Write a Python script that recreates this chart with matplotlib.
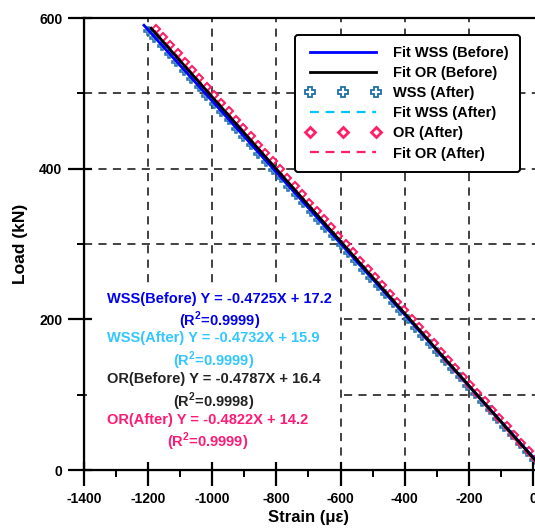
import numpy as np
import matplotlib
matplotlib.use("Agg")
import matplotlib.pyplot as plt
from matplotlib.lines import Line2D
from matplotlib.patches import Rectangle

plt.rcParams['font.family'] = ['Liberation Sans', 'DejaVu Sans']
plt.rcParams['font.weight'] = 'bold'
plt.rcParams['axes.unicode_minus'] = False
plt.rcParams['mathtext.fontset'] = 'custom'
plt.rcParams['mathtext.rm'] = 'Liberation Sans:bold'
plt.rcParams['mathtext.bf'] = 'Liberation Sans:bold'

# --- data ---
wss_load = [2, 13, 24, 35, 46, 57, 68, 79, 90, 101, 112, 123, 134, 145, 156, 167, 178, 189,
            200, 211, 222, 233, 244, 255, 266, 277, 288, 299, 310, 321, 332, 343, 354, 365,
            376, 387, 398, 409, 420, 431, 442, 453, 464, 475, 486, 497, 508, 519, 530, 541,
            552, 563, 574, 583]
wss_strain = [27, 4, -19, -42, -66, -89, -112, -135, -159, -182, -205, -228, -252, -275, -298,
              -321, -345, -368, -391, -414, -438, -461, -484, -507, -531, -554, -577, -600,
              -624, -647, -670, -693, -717, -740, -763, -786, -810, -833, -856, -879, -903,
              -926, -949, -972, -996, -1019, -1042, -1065, -1089, -1112, -1135, -1158, -1181,
              -1200]
or_load = [3, 14, 25, 36, 47, 58, 69, 80, 91, 102, 113, 124, 135, 146, 157, 168, 179, 190,
           201, 212, 223, 234, 245, 256, 267, 278, 289, 300, 311, 322, 333, 344, 355, 366,
           377, 388, 399, 410, 421, 432, 443, 454, 465, 476, 487, 498, 509, 520, 531, 542,
           553, 564, 575, 585]
or_strain = [32, 9, -13, -36, -59, -82, -105, -127, -150, -173, -196, -219, -242, -264, -287,
             -310, -333, -356, -378, -401, -424, -447, -470, -492, -515, -538, -561, -584,
             -607, -629, -652, -675, -698, -721, -743, -766, -789, -812, -835, -857, -880,
             -903, -926, -949, -972, -994, -1017, -1040, -1063, -1086, -1108, -1131, -1154,
             -1175]

# linear fits: slope, intercept, start strain
fit_names = ['WSS(Before)', 'WSS(After)', 'OR(Before)', 'OR(After)']
fit_slope = [-0.4725, -0.4732, -0.4787, -0.4822]
fit_icpt = [17.2, 15.9, 16.4, 14.2]
fit_r2 = ['0.9999', '0.9999', '0.9998', '0.9999']
fit_start = [-1213, -1205, -1191, -1180]

x_ticks = [-1400, -1200, -1000, -800, -600, -400, -200, 0]
y_ticks = [0, 200, 400, 600]

C_BLUE = '#0000ff'
C_CYAN = '#00c4ff'
C_MARK = '#1f6fa8'
C_PINK = '#ff1f66'
text_colors = ['#0000ee', '#33c6ff', '#222222', '#ff1a75']

fig = plt.figure(figsize=(5.35, 5.30), dpi=100)
ax = fig.add_axes([84 / 535, 60 / 530, 461.8 / 535, 452 / 530])
ax.set_xlim(-1400, 40)
ax.set_ylim(0, 600)

# dashed grid drawn by hand so the text box can hide part of it
grid_kw = dict(color='#333333', lw=1.3, dashes=(4.5, 3.5), zorder=0.5)
for xv in x_ticks[1:-1]:
    ax.axvline(xv, **grid_kw)
for yv in [100, 200, 300, 400, 500]:
    ax.axhline(yv, **grid_kw)

ax.add_patch(Rectangle((-1390, 5), 785, 241, facecolor='white', edgecolor='none', zorder=0.6))

# measured points
ax.plot(wss_strain, wss_load, ls='none', marker='P', ms=5.5, mfc='white', mec=C_MARK,
        mew=1.1, zorder=2)
ax.plot(or_strain, or_load, ls='none', marker='D', ms=4.3, mfc='white', mec=C_PINK,
        mew=1.5, zorder=2.1)

# fit lines
def fit_line(i):
    xs = np.array([fit_start[i], -fit_icpt[i] / fit_slope[i]])
    return xs, fit_slope[i] * xs + fit_icpt[i]

x, y = fit_line(1)
ax.plot(x, y, color=C_CYAN, lw=1.6, dashes=(4, 3), zorder=3)
x, y = fit_line(3)
ax.plot(x, y, color=C_PINK, lw=1.6, dashes=(4, 3), zorder=3.1)
x, y = fit_line(0)
ax.plot(x, y, color=C_BLUE, lw=2, zorder=3.2)
x, y = fit_line(2)
ax.plot(x, y, color='black', lw=2, zorder=3.3)

# equation text
text_y = [210, 157.5, 103, 49]
for i in range(4):
    s = f"{fit_names[i]} Y = {fit_slope[i]:.4f}X + {fit_icpt[i]}\n(R$^{{2}}$={fit_r2[i]})"
    ax.text(-1328, text_y[i], s, color=text_colors[i], fontsize=10.5, fontweight='bold',
            ha='left', va='center', multialignment='center', linespacing=1.25, zorder=4)

# axes styling
for sp in ax.spines.values():
    sp.set_linewidth(1.6)
ax.set_xticks(x_ticks)
ax.set_yticks(y_ticks)
ax.set_xticks([-1300, -1100, -900, -700, -500, -300, -100], minor=True)
ax.set_yticks([100, 300, 500], minor=True)
ax.tick_params(which='major', direction='out', length=11.5, width=1.6, labelsize=10, pad=4)
ax.tick_params(which='minor', direction='out', length=5, width=1.4)
for lab in ax.get_xticklabels() + ax.get_yticklabels():
    lab.set_fontweight('bold')

# short inward part of the major ticks
secx = ax.secondary_xaxis('bottom')
secx.set_xticks(x_ticks)
secx.tick_params(direction='in', length=5.8, width=1.6, labelbottom=False)
secx.set_zorder(5)
secy = ax.secondary_yaxis('left')
secy.set_yticks(y_ticks)
secy.tick_params(direction='in', length=5.8, width=1.6, labelleft=False)
secy.set_zorder(5)

ax.set_ylabel('Load (kN)', fontsize=12.5, fontweight='bold', labelpad=8)
ax.set_xlabel('Strain (με)', fontsize=12, fontweight='bold')
ax.xaxis.set_label_coords(700 / 1440, -0.088)

handles = [
    Line2D([], [], color=C_BLUE, lw=2),
    Line2D([], [], color='black', lw=2),
    Line2D([], [], ls='none', marker='P', ms=7.5, mfc='white', mec=C_MARK, mew=1.3),
    Line2D([], [], color=C_CYAN, lw=1.6, dashes=(4, 3)),
    Line2D([], [], ls='none', marker='D', ms=5.5, mfc='white', mec=C_PINK, mew=2),
    Line2D([], [], color=C_PINK, lw=1.6, dashes=(4, 3)),
]
labels = ['Fit WSS (Before)', 'Fit OR (Before)', 'WSS (After)', 'Fit WSS (After)',
          'OR (After)', 'Fit OR (After)']
leg = ax.legend(handles, labels, loc='upper right', bbox_to_anchor=(520 / 535, 1 - 35 / 530),
                bbox_transform=fig.transFigure, numpoints=3, handlelength=5.1,
                handletextpad=0.9, labelspacing=0.42, borderpad=0.75, fancybox=True,
                framealpha=1, edgecolor='black', borderaxespad=0,
                prop={'size': 10.5, 'weight': 'bold'})
leg.get_frame().set_linewidth(1.4)
leg.set_zorder(6)

fig.savefig('out.png', dpi=100)
